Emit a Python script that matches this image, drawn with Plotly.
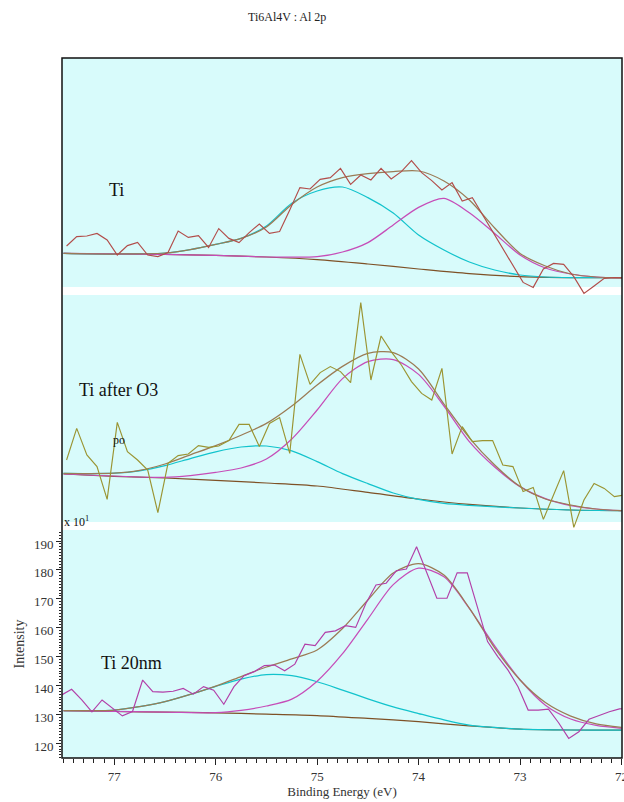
import plotly.graph_objects as go

# ---------------- data ----------------
# binding energy grid of the Ti and Ti-after-O3 scans (eV)
energy_a = [77.47, 77.37, 77.27, 77.17, 77.07, 76.97, 76.87, 76.77, 76.67, 76.57,
            76.47, 76.37, 76.27, 76.17, 76.07, 75.97, 75.87, 75.77, 75.67, 75.57,
            75.47, 75.37, 75.27, 75.17, 75.07, 74.97, 74.87, 74.77, 74.67, 74.57,
            74.47, 74.37, 74.27, 74.17, 74.07, 73.97, 73.87, 73.77, 73.67, 73.57,
            73.47, 73.37, 73.27, 73.17, 73.07, 72.97, 72.87, 72.77, 72.67, 72.57,
            72.47, 72.37, 72.27, 72.17, 72.07, 71.97]
# binding energy grid of the Ti 20nm scan (eV)
energy_b = [77.52, 77.42, 77.32, 77.22, 77.12, 77.02, 76.92, 76.82, 76.72, 76.62,
            76.52, 76.42, 76.32, 76.22, 76.12, 76.02, 75.92, 75.82, 75.72, 75.62,
            75.52, 75.42, 75.32, 75.22, 75.12, 75.02, 74.92, 74.82, 74.72, 74.62,
            74.52, 74.42, 74.32, 74.22, 74.12, 74.02, 73.92, 73.82, 73.72, 73.62,
            73.52, 73.42, 73.32, 73.22, 73.12, 73.02, 72.92, 72.82, 72.72, 72.62,
            72.52, 72.42, 72.32, 72.22, 72.12, 72.02, 71.92]

# --- Ti ---
ti_raw = [177.0, 181.7, 182.0, 183.3, 180.0, 172.5, 177.2, 178.8, 172.5, 171.7,
          173.7, 184.5, 181.3, 182.2, 176.3, 185.7, 180.8, 178.7, 183.7, 188.0,
          183.3, 184.2, 195.0, 206.2, 205.5, 210.3, 211.2, 215.8, 207.8, 212.5,
          210.0, 215.8, 210.5, 214.2, 219.7, 213.7, 209.7, 205.0, 208.7, 199.5,
          201.2, 192.7, 184.2, 175.8, 167.5, 158.8, 156.3, 165.5, 168.3, 167.8,
          161.7, 153.3, 157.0, 160.8, 161.2, 161.0]
ti_bg_e = [77.5, 77.0, 76.5, 76.0, 75.5, 75.0, 74.5, 74.0, 73.5, 73.0, 72.5, 72.0]
ti_bg = [173.3, 173.0, 172.8, 172.3, 171.5, 170.2, 168.0, 165.5, 163.2, 161.7, 161.2, 161.2]
ti_c1_e = [77.5, 77.0, 76.5, 76.25, 76.0, 75.75, 75.5, 75.25, 75.0, 74.75, 74.5,
           74.25, 74.0, 73.75, 73.5, 73.25, 73.0, 72.75, 72.5, 72.0]
ti_c1 = [173.3, 173.0, 173.5, 175.2, 177.8, 180.8, 187.0, 198.4, 204.5, 206.5, 201.2,
         193.5, 182.5, 175.0, 169.0, 165.0, 162.5, 161.5, 161.2, 161.2]
ti_c2_e = [77.5, 76.5, 76.0, 75.5, 75.25, 75.0, 74.75, 74.5, 74.25, 74.0, 73.75,
           73.5, 73.25, 73.0, 72.75, 72.5, 72.25, 72.0]
ti_c2 = [173.3, 172.8, 172.3, 171.5, 171.4, 171.7, 174.0, 178.7, 187.5, 196.3, 200.8,
         193.6, 183.3, 172.5, 166.0, 163.0, 161.5, 161.2]
ti_env_e = [77.5, 77.0, 76.5, 76.25, 76.0, 75.75, 75.5, 75.25, 75.0, 74.75, 74.5,
            74.25, 74.0, 73.75, 73.5, 73.25, 73.0, 72.75, 72.5, 72.25, 72.0]
ti_env = [173.3, 173.0, 173.5, 175.2, 177.8, 180.8, 186.5, 197.8, 206.5, 211.2, 213.2,
          214.2, 214.5, 209.5, 200.0, 186.0, 173.3, 167.0, 163.0, 161.5, 161.2]

# --- Ti after O3 ---
o3_raw = [170.0, 185.8, 172.5, 166.7, 150.3, 188.8, 174.2, 170.0, 165.0, 143.7,
          168.3, 172.2, 173.0, 177.2, 176.3, 177.0, 179.7, 187.8, 187.8, 176.7,
          188.3, 191.2, 173.3, 222.8, 207.8, 213.7, 216.7, 214.2, 208.7, 248.7,
          210.0, 232.0, 224.2, 217.5, 209.2, 203.3, 200.0, 215.8, 173.0, 186.7,
          179.2, 179.7, 179.7, 167.5, 166.7, 154.2, 156.3, 140.3, 152.5, 164.7,
          136.3, 150.0, 158.3, 155.8, 151.7, 152.5]
o3_bg_e = [77.5, 77.0, 76.5, 76.0, 75.5, 75.0, 74.5, 74.0, 73.5, 73.0, 72.5, 72.0]
o3_bg = [163.0, 161.8, 161.0, 159.8, 158.5, 157.0, 153.8, 150.5, 147.8, 146.0, 145.0, 144.7]
o3_c1_e = [77.5, 77.0, 76.75, 76.5, 76.25, 76.0, 75.75, 75.5, 75.25, 75.0, 74.75,
           74.5, 74.25, 74.0, 73.75, 73.5, 73.0, 72.5, 72.0]
o3_c1 = [163.3, 163.4, 164.6, 167.2, 170.7, 174.1, 176.5, 177.0, 174.6, 169.2, 163.2,
         158.2, 153.5, 150.3, 148.3, 147.3, 146.0, 145.0, 144.7]
o3_c2_e = [77.5, 76.5, 76.25, 76.0, 75.75, 75.5, 75.25, 75.0, 74.75, 74.5, 74.25,
           74.0, 73.75, 73.5, 73.25, 73.0, 72.75, 72.5, 72.25, 72.0]
o3_c2 = [163.0, 161.3, 162.2, 163.8, 166.0, 170.5, 180.5, 195.0, 210.7, 219.2, 220.2,
         212.8, 197.0, 179.2, 166.5, 156.7, 150.7, 147.2, 145.5, 144.7]
o3_env_e = [77.5, 77.0, 76.75, 76.5, 76.25, 76.0, 75.75, 75.5, 75.25, 75.0, 74.75,
            74.5, 74.25, 74.0, 73.75, 73.5, 73.25, 73.0, 72.75, 72.5, 72.25, 72.0]
o3_env = [163.3, 163.4, 164.8, 168.0, 172.6, 177.2, 182.4, 188.3, 197.0, 207.5, 216.8,
          223.3, 223.7, 215.5, 198.0, 181.1, 167.5, 156.7, 150.5, 147.5, 145.5, 144.7]

# --- Ti 20nm (counts x 10) ---
nm_raw = [136.7, 138.7, 135.0, 130.9, 135.0, 132.1, 129.5, 131.0, 141.9, 137.9,
          137.7, 138.0, 139.0, 137.0, 139.6, 138.4, 133.5, 139.6, 143.4, 144.8,
          146.9, 147.1, 145.1, 147.4, 154.3, 153.8, 158.4, 158.9, 160.7, 160.1,
          168.4, 174.8, 175.4, 179.7, 180.3, 188.0, 179.3, 170.2, 170.2, 179.0,
          179.0, 167.3, 155.2, 150.0, 145.4, 139.6, 131.5, 131.5, 131.8, 127.1,
          121.7, 124.0, 128.3, 129.6, 130.9, 131.9, 132.1]
nm_bg_e = [77.5, 77.0, 76.5, 76.0, 75.5, 75.0, 74.5, 74.0, 73.5, 73.0, 72.5, 72.0]
nm_bg = [131.3, 131.0, 130.8, 130.5, 130.1, 129.6, 128.6, 127.5, 126.0, 124.9, 124.6, 124.6]
nm_c1_e = [77.5, 77.0, 76.75, 76.5, 76.25, 76.0, 75.75, 75.5, 75.25, 75.0, 74.75,
           74.5, 74.25, 74.0, 73.75, 73.5, 73.25, 73.0, 72.5, 72.0]
nm_c1 = [131.3, 131.5, 132.7, 134.4, 136.9, 139.7, 142.2, 143.8, 143.4, 141.3, 138.4,
         135.4, 132.6, 130.3, 128.1, 126.3, 125.5, 124.9, 124.6, 124.6]
nm_c2_e = [77.5, 76.5, 76.0, 75.75, 75.5, 75.25, 75.0, 74.75, 74.5, 74.25, 74.0,
           73.75, 73.5, 73.25, 73.0, 72.75, 72.5, 72.25, 72.0]
nm_c2 = [131.3, 130.8, 130.6, 131.4, 132.9, 135.3, 141.5, 151.0, 163.0, 174.9, 180.6,
         177.6, 166.7, 153.7, 142.0, 133.2, 128.4, 126.2, 125.2]
nm_env_e = [77.5, 77.0, 76.75, 76.5, 76.25, 76.0, 75.75, 75.5, 75.25, 75.0, 74.75,
            74.5, 74.25, 74.0, 73.75, 73.5, 73.25, 73.0, 72.75, 72.5, 72.25, 72.0]
nm_env = [131.3, 131.5, 132.7, 134.4, 136.9, 139.8, 143.1, 146.4, 149.2, 152.3, 159.7,
          169.6, 178.9, 182.2, 178.2, 166.8, 153.0, 141.9, 134.1, 129.4, 126.7, 125.5]

y_ticks = [120, 130, 140, 150, 160, 170, 180, 190]
x_ticks = [77, 76, 75, 74, 73, 72]

# ---------------- styling ----------------
SERIF = "Liberation Serif"
PANEL_BG = "#d8fbfb"
C_BG = "#7e5126"
C_ENV = "#9b7b55"
C_C1 = "#12c3cc"
C_C2 = "#c64db8"
RAW_COLORS = {"y3": "#b24d4a", "y2": "#9a9432", "y": "#b23fa8"}

W, H = 624, 802
L, R, T, B = 62, 2, 58, 44
PW, PH = W - L - R, H - T - B


def px(xp):
    return (xp - L) / PW


def py(yp):
    return (H - B - yp) / PH


fig = go.Figure()


def curve(x, y, color, axis, spline=True, width=1.25):
    fig.add_trace(go.Scatter(
        x=x, y=y, mode="lines", yaxis=axis, xaxis="x",
        line=dict(color=color, width=width, shape="spline" if spline else "linear",
                  smoothing=0.8),
        hoverinfo="skip", showlegend=False))


panels = [
    ("y3", energy_a, ti_raw, (ti_bg_e, ti_bg), (ti_c1_e, ti_c1), (ti_c2_e, ti_c2), (ti_env_e, ti_env)),
    ("y2", energy_a, o3_raw, (o3_bg_e, o3_bg), (o3_c1_e, o3_c1), (o3_c2_e, o3_c2), (o3_env_e, o3_env)),
    ("y", energy_b, nm_raw, (nm_bg_e, nm_bg), (nm_c1_e, nm_c1), (nm_c2_e, nm_c2), (nm_env_e, nm_env)),
]
for axis, e, raw, bg, c1, c2, env in panels:
    curve(*bg, C_BG, axis)
    curve(*c1, C_C1, axis)
    curve(*c2, C_C2, axis)
    curve(*env, C_ENV, axis)
    curve(e, raw, RAW_COLORS[axis], axis, spline=False, width=1.15)

# panel backgrounds (white gaps between them) and outer frame
shapes = []
for top, bottom in [(58, 287), (295, 522), (530, 758)]:
    shapes.append(dict(type="rect", xref="paper", yref="paper", layer="below",
                       x0=0, x1=1, y0=py(bottom), y1=py(top),
                       fillcolor=PANEL_BG, line=dict(width=0)))
shapes.append(dict(type="rect", xref="paper", yref="paper", layer="above",
                   x0=0, x1=1, y0=0, y1=1, line=dict(color="#111", width=1.5)))

annotations = [
    dict(text="Ti6Al4V : Al 2p", x=px(287), y=py(17), xanchor="center", yanchor="middle",
         font=dict(family=SERIF, size=12, color="#222")),
    dict(text="Ti", x=px(107), y=py(190), xanchor="left", yanchor="middle",
         font=dict(family=SERIF, size=18, color="#111")),
    dict(text="Ti after O3", x=px(77), y=py(390), xanchor="left", yanchor="middle",
         font=dict(family=SERIF, size=18, color="#111")),
    dict(text="po", x=px(111), y=py(440), xanchor="left", yanchor="middle",
         font=dict(family=SERIF, size=12, color="#111")),
    dict(text="Ti 20nm", x=px(99), y=py(663), xanchor="left", yanchor="middle",
         font=dict(family=SERIF, size=18, color="#111")),
    dict(text="x 10<sup>1</sup>", x=px(62), y=py(521), xanchor="left", yanchor="middle",
         font=dict(family=SERIF, size=12, color="#111")),
]
for a in annotations:
    a.update(xref="paper", yref="paper", showarrow=False)

tickfont = dict(family=SERIF, size=13, color="#333")
fig.update_layout(
    width=W, height=H,
    margin=dict(l=L, r=R, t=T, b=B, autoexpand=False),
    paper_bgcolor="white", plot_bgcolor="rgba(0,0,0,0)",
    showlegend=False,
    shapes=shapes, annotations=annotations,
    xaxis=dict(
        range=[77.515, 71.995], anchor="y", showgrid=False, zeroline=False, showline=False,
        tickvals=x_ticks, ticktext=[str(v) for v in x_ticks], ticklabeloverflow="allow",
        ticks="outside", ticklen=6, tickwidth=1, tickcolor="#222",
        minor=dict(dtick=0.1, ticks="outside", ticklen=4, tickwidth=1, tickcolor="#222"),
        tickfont=tickfont,
        title=dict(text="Binding Energy (eV)", standoff=3,
                   font=dict(family=SERIF, size=13, color="#333")),
    ),
    yaxis=dict(
        domain=[0, py(530)], range=[114.91, 193.81], anchor="x",
        showgrid=False, zeroline=False, showline=False,
        tickvals=y_ticks, ticks="outside", ticklen=5, tickwidth=1, tickcolor="#222",
        minor=dict(dtick=1, ticks="outside", ticklen=2.5, tickwidth=1, tickcolor="#222"),
        ticklabelshift=3, tickfont=tickfont,
        title=dict(text="Intensity", standoff=6,
                   font=dict(family=SERIF, size=14, color="#333")),
    ),
    yaxis2=dict(domain=[py(530), py(295)], range=[135, 252.5], anchor="x", visible=False),
    yaxis3=dict(domain=[py(296), 1], range=[152, 271], anchor="x", visible=False),
)

fig.write_html("out.html")
